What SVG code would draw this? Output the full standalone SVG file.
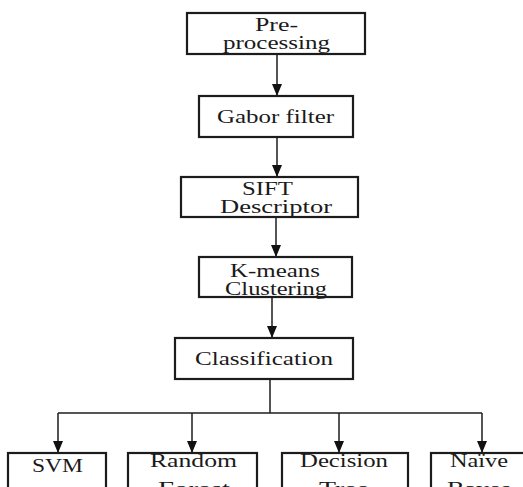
<svg xmlns="http://www.w3.org/2000/svg" width="523" height="487" viewBox="0 0 523 487" font-family="Liberation Serif, Times New Roman, DejaVu Serif, serif">
<defs>
<style>
.box{fill:#fff;stroke:#1c1c1c;stroke-width:2.2}
.t{font-family:'Liberation Serif',serif;font-size:19px;fill:#1a1a1a}
.c{fill:none;stroke:#1c1c1c;stroke-width:1.5}
</style>
<marker id="ah" viewBox="0 0 12 10" refX="12" refY="5" markerWidth="12" markerHeight="10" markerUnits="userSpaceOnUse" orient="auto">
<path d="M0,0 L12,5 L0,10 Z" fill="#111"/>
</marker>
</defs>
<rect width="523" height="487" fill="#fff"/>
<g id="connectors">
<line class="c" x1="277" y1="54" x2="277" y2="96" marker-end="url(#ah)"/>
<line class="c" x1="277" y1="137" x2="277" y2="177" marker-end="url(#ah)"/>
<line class="c" x1="276" y1="217" x2="276" y2="257" marker-end="url(#ah)"/>
<line class="c" x1="272" y1="297" x2="272" y2="338" marker-end="url(#ah)"/>
<line class="c" x1="270" y1="379" x2="270" y2="413"/>
<line class="c" x1="58" y1="413" x2="482" y2="413"/>
<line class="c" x1="58" y1="413" x2="58" y2="453" marker-end="url(#ah)"/>
<line class="c" x1="192" y1="413" x2="192" y2="453" marker-end="url(#ah)"/>
<line class="c" x1="339" y1="413" x2="339" y2="453" marker-end="url(#ah)"/>
<line class="c" x1="482" y1="413" x2="482" y2="453" marker-end="url(#ah)"/>
</g>
<g id="preprocessing">
<rect class="box" x="187" y="13" width="178" height="41"/>
<text class="t" x="255" y="31" textLength="43" lengthAdjust="spacingAndGlyphs">Pre-</text>
<text class="t" x="223" y="49" textLength="107" lengthAdjust="spacingAndGlyphs">processing</text>
</g>
<g id="gabor">
<rect class="box" x="199" y="96" width="154" height="41"/>
<text class="t" x="217" y="123" textLength="117" lengthAdjust="spacingAndGlyphs">Gabor filter</text>
</g>
<g id="sift">
<rect class="box" x="181" y="177" width="177" height="40"/>
<text class="t" x="242" y="195" textLength="51" lengthAdjust="spacingAndGlyphs">SIFT</text>
<text class="t" x="220" y="213" textLength="112" lengthAdjust="spacingAndGlyphs">Descriptor</text>
</g>
<g id="kmeans">
<rect class="box" x="199" y="257" width="153" height="40"/>
<text class="t" x="230" y="277" textLength="90" lengthAdjust="spacingAndGlyphs">K-means</text>
<text class="t" x="225" y="295" textLength="102" lengthAdjust="spacingAndGlyphs">Clustering</text>
</g>
<g id="classification">
<rect class="box" x="175" y="338" width="178" height="41"/>
<text class="t" x="195" y="365" textLength="138" lengthAdjust="spacingAndGlyphs">Classification</text>
</g>
<g id="svm">
<rect class="box" x="8" y="453" width="98" height="50"/>
<text class="t" x="32" y="472" textLength="51" lengthAdjust="spacingAndGlyphs">SVM</text>
</g>
<g id="randomforest">
<rect class="box" x="128" y="453" width="129" height="50"/>
<text class="t" x="150" y="467" textLength="87" lengthAdjust="spacingAndGlyphs">Random</text>
<text class="t" x="158" y="495" textLength="72" lengthAdjust="spacingAndGlyphs">Forest</text>
</g>
<g id="decisiontree">
<rect class="box" x="282" y="453" width="126" height="50"/>
<text class="t" x="300" y="467" textLength="88" lengthAdjust="spacingAndGlyphs">Decision</text>
<text class="t" x="319" y="495" textLength="50" lengthAdjust="spacingAndGlyphs">Tree</text>
</g>
<g id="naivebayes">
<rect class="box" x="431" y="453" width="100" height="50"/>
<text class="t" x="450" y="467" textLength="58" lengthAdjust="spacingAndGlyphs">Naïve</text>
<text class="t" x="447" y="495" textLength="64" lengthAdjust="spacingAndGlyphs">Bayes</text>
</g>
</svg>
